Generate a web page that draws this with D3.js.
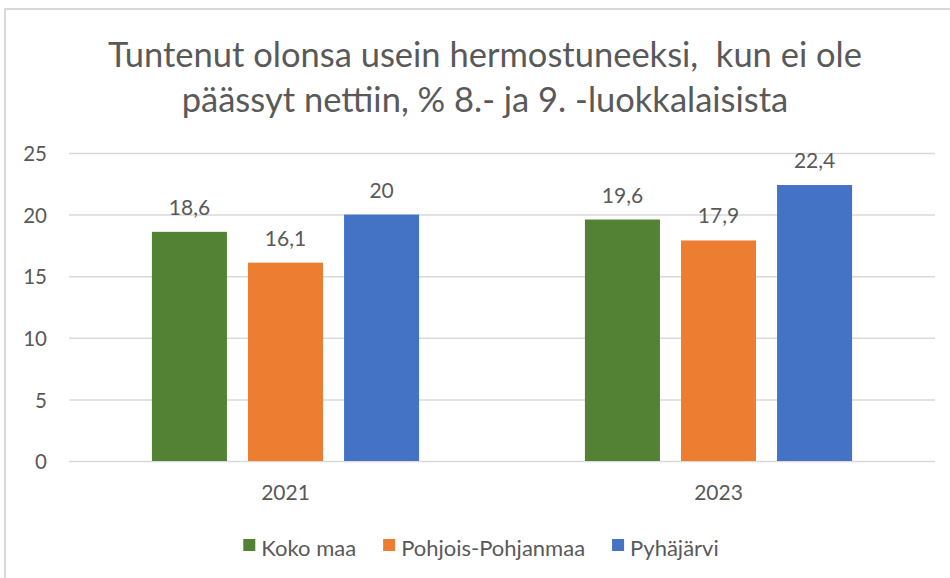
<!DOCTYPE html>
<html>
<head>
<meta charset="utf-8">
<script src="https://cdn.jsdelivr.net/npm/d3@7"></script>
<style>
  body { margin: 0; background: #fff; }
  svg text { font-family: Lato, "Open Sans", sans-serif; fill: #595959; }
</style>
</head>
<body>
<div class="chart"></div>
<script>
// -DATA-
const years = ["2021", "2023"];
const seriesNames = ["Koko maa", "Pohjois-Pohjanmaa", "Pyhäjärvi"];
const kokoMaa = [18.6, 19.6];
const pohjoisPohjanmaa = [16.1, 17.9];
const pyhajarvi = [20, 22.4];
const yTicks = [0, 5, 10, 15, 20, 25];
const titleLines = ["Tuntenut olonsa usein hermostuneeksi,  kun ei ole", "päässyt nettiin, % 8.- ja 9. -luokkalaisista"];

// colors (excel defaults)
const colors = ["#548235", "#ED7D31", "#4472C4"];

// -SIZES-
const svg_w = 950;
const svg_h = 578;
const plotLeft = 69;
const plotRight = 935;
const plotTop = 153;
const plotBottom = 461;

// table for the grouped bars
const seriesValues = [kokoMaa, pohjoisPohjanmaa, pyhajarvi];
const rows = [];
years.forEach((yr, i) => {
    seriesNames.forEach((name, j) => {
        rows.push({ year: yr, series: name, value: seriesValues[j][i] });
    });
});

// comma decimals
const fiLocale = d3.formatLocale({ decimal: ",", thousands: " ", grouping: [3], currency: ["", "€"] });
const fmt = fiLocale.format("~f");

const svg = d3.select(".chart")
    .append("svg")
    .attr("width", svg_w)
    .attr("height", svg_h);

svg.append("rect")
    .attr("width", svg_w)
    .attr("height", svg_h)
    .attr("fill", "#fff");

// chart area border (only top and left visible in the crop)
svg.append("rect")
    .attr("x", 5)
    .attr("y", 9)
    .attr("width", 1000)
    .attr("height", 700)
    .attr("fill", "none")
    .attr("stroke", "#d9d9d9")
    .attr("stroke-width", 2);

// scales
const x0 = d3.scaleBand()
    .domain(years)
    .range([plotLeft, plotRight])
    .paddingInner(0.383)
    .paddingOuter(0.1915);

const x1 = d3.scaleBand()
    .domain(seriesNames)
    .range([0, x0.bandwidth()])
    .paddingInner(0.219)
    .paddingOuter(0);

const y = d3.scaleLinear()
    .domain([0, 25])
    .range([plotBottom, plotTop]);

const color = d3.scaleOrdinal()
    .domain(seriesNames)
    .range(colors);

// gridlines + y labels
const yAxis = d3.axisLeft(y)
    .tickValues(yTicks)
    .tickSize(-(plotRight - plotLeft))
    .tickPadding(22)
    .tickFormat(d3.format("d"));

const gy = svg.append("g")
    .attr("transform", "translate(" + plotLeft + ",0)")
    .call(yAxis);
gy.select(".domain").remove();
gy.selectAll(".tick line")
    .attr("stroke", "#d9d9d9")
    .attr("stroke-width", 1.5);
gy.selectAll(".tick text")
    .attr("font-size", "20.5px")
    .attr("dy", "0.38em")
    .style("font-family", "Lato")
    .attr("fill", "#595959");

// bars
svg.append("g")
    .selectAll("rect")
    .data(rows)
    .enter()
    .append("rect")
    .attr("x", d => x0(d.year) + x1(d.series))
    .attr("y", d => y(d.value))
    .attr("width", x1.bandwidth())
    .attr("height", d => y(0) - y(d.value))
    .attr("fill", d => color(d.series));

// value labels
svg.append("g")
    .selectAll("text")
    .data(rows)
    .enter()
    .append("text")
    .attr("x", d => x0(d.year) + x1(d.series) + x1.bandwidth() / 2)
    .attr("y", d => y(d.value) - 17)
    .attr("text-anchor", "middle")
    .attr("font-size", "21px")
    .text(d => fmt(d.value));

// x axis labels
const xAxis = d3.axisBottom(x0).tickSize(0).tickPadding(24);
const gx = svg.append("g")
    .attr("transform", "translate(0," + plotBottom + ")")
    .call(xAxis);
gx.select(".domain").remove();
gx.selectAll(".tick text")
    .attr("font-size", "21px")
    .style("font-family", "Lato")
    .attr("fill", "#595959");

// title
svg.append("text")
    .attr("x", 485)
    .attr("y", 67)
    .attr("text-anchor", "middle")
    .attr("font-size", "34.5px")
    .selectAll("tspan")
    .data(titleLines)
    .enter()
    .append("tspan")
    .attr("x", 485)
    .attr("dy", (d, i) => i === 0 ? 0 : 45)
    .style("white-space", "pre")
    .text(d => d);

// legend
const legend = svg.append("g").attr("id", "legend");
const items = legend.selectAll("g")
    .data(seriesNames)
    .enter()
    .append("g");
items.append("rect")
    .attr("width", 12)
    .attr("height", 12)
    .attr("y", -17)
    .attr("fill", d => color(d));
items.append("text")
    .attr("x", 18)
    .attr("font-size", "22px")
    .text(d => d);

// lay items out side by side and center them
let offset = 0;
items.each(function () {
    const w = this.getBBox().width;
    d3.select(this).attr("transform", "translate(" + offset + ",0)");
    offset += w + 27;
});
const legendW = offset - 27;
legend.attr("transform", "translate(" + (481 - legendW / 2) + ",556)");
</script>
</body>
</html>
